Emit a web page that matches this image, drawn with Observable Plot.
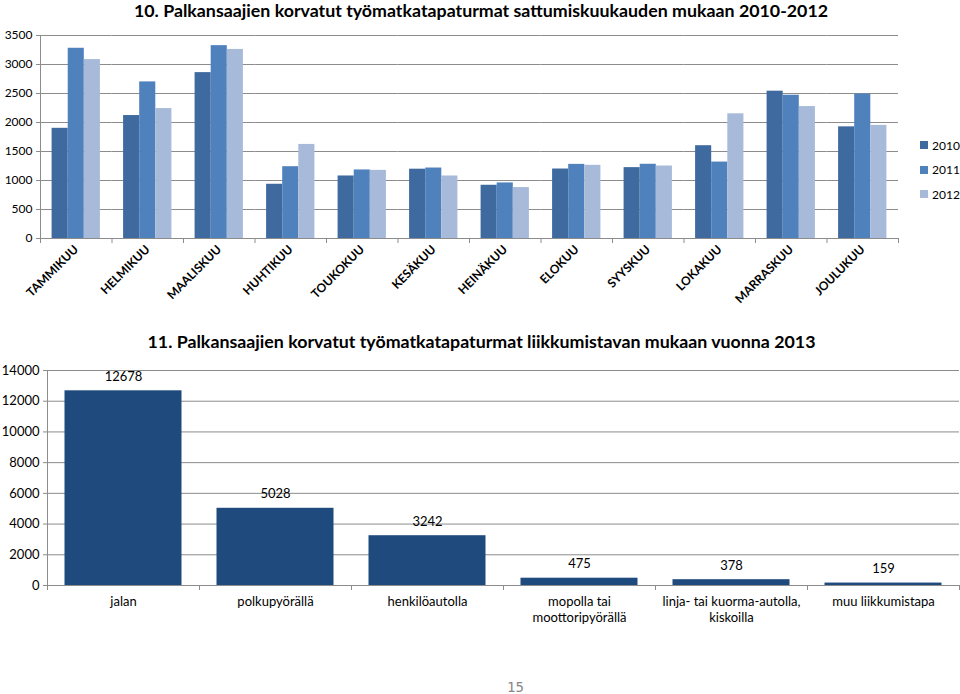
<!DOCTYPE html>
<html>
<head>
<meta charset="utf-8">
<script src="https://cdn.jsdelivr.net/npm/d3@7"></script>
<script src="https://cdn.jsdelivr.net/npm/@observablehq/plot@0.6"></script>
<style>
  html, body { margin: 0; padding: 0; background: #fff; }
  #page { position: relative; width: 960px; height: 694px; overflow: hidden; font-family: Lato, "Open Sans", sans-serif; color: #000; }
  .abs { position: absolute; }
  .title { font-weight: bold; font-size: 17.8px; text-align: center; white-space: nowrap; }
  .legend-item { display: flex; align-items: center; font-size: 12px; }
  .legend-item span.sw { width: 8px; height: 8px; margin-right: 4px; display: inline-block; }
</style>
</head>
<body>
<div id="page">
  <div id="chart1" class="abs" style="left:0;top:0"></div>
  <div id="chart2" class="abs" style="left:0;top:330px"></div>
  <div class="abs title" style="left:0;top:-1px;width:962px;">10. Palkansaajien korvatut työmatkatapaturmat sattumiskuukauden mukaan 2010-2012</div>
  <div class="abs title" style="left:0;top:330px;width:963px;">11. Palkansaajien korvatut työmatkatapaturmat liikkumistavan mukaan vuonna 2013</div>
  <div id="legend" class="abs" style="left:920px;top:133px;"></div>
  <div class="abs" style="left:507px;top:680px;font-family:'DejaVu Sans Mono',monospace;font-size:14px;line-height:14px;color:#888;">15</div>
</div>
<script>
// ---- Chart 10 data ----
const months = ["TAMMIKUU","HELMIKUU","MAALISKUU","HUHTIKUU","TOUKOKUU","KESÄKUU","HEINÄKUU","ELOKUU","SYYSKUU","LOKAKUU","MARRASKUU","JOULUKUU"];
const years = ["2010","2011","2012"];
const v2010 = [1900, 2120, 2860, 935, 1078, 1195, 918, 1198, 1222, 1600, 2540, 1925];
const v2011 = [3280, 2700, 3325, 1238, 1182, 1215, 958, 1278, 1280, 1318, 2470, 2490];
const v2012 = [3085, 2240, 3260, 1622, 1175, 1078, 878, 1262, 1250, 2150, 2275, 1950];
const yearColors = ["#3E6A9F", "#4F81BD", "#A8BAD9"];
const yTicks1 = [0, 500, 1000, 1500, 2000, 2500, 3000, 3500];

// ---- Chart 11 data ----
const modes = ["jalan","polkupyörällä","henkilöautolla","mopolla tai moottoripyörällä","linja- tai kuorma-autolla, kiskoilla","muu liikkumistapa"];
const modeLabels = ["jalan","polkupyörällä","henkilöautolla","mopolla tai\nmoottoripyörällä","linja- tai kuorma-autolla,\nkiskoilla","muu liikkumistapa"];
const modeValues = [12678, 5028, 3242, 475, 378, 159];
const yTicks2 = [0, 2000, 4000, 6000, 8000, 10000, 12000, 14000];
const barColor2 = "#1F4A7E";

const gridColor = "#8C8C8C";

// Build tables
const series = [v2010, v2011, v2012];
const data1 = months.flatMap((m, i) => years.map((y, j) => ({month: m, year: y, value: series[j][i]})));
const data2 = modes.map((m, i) => ({mode: m, value: modeValues[i]}));
const labelOf = new Map(modes.map((m, i) => [m, modeLabels[i]]));
const plain = d => String(d);

// chart 1 geometry
const h1 = 320, mt1 = 35, mb1 = 82;
const inner1 = h1 - mt1 - mb1;

const chart1 = Plot.plot({
  width: 960,
  height: h1,
  marginLeft: 40,
  marginRight: 62,
  marginTop: mt1,
  marginBottom: mb1,
  style: {fontFamily: "Lato, sans-serif", fontSize: "12px", color: "#000", background: "transparent"},
  fx: {domain: months, padding: 0, label: null, round: false},
  x: {domain: years, paddingInner: 0, paddingOuter: 0.72, axis: null, round: false},
  y: {domain: [0, 3500], label: null},
  color: {domain: years, range: yearColors},
  marks: [
    Plot.gridY(yTicks1, {stroke: gridColor, strokeOpacity: 1}),
    Plot.barY(data1, {fx: "month", x: "year", y: "value", fill: "year"}),
    Plot.ruleY([0], {stroke: gridColor}),
    Plot.frame({anchor: "left", stroke: gridColor, facetAnchor: "left"}),
    Plot.frame({anchor: "left", stroke: gridColor, insetTop: inner1, insetBottom: -4}),
    Plot.frame({anchor: "right", stroke: gridColor, insetTop: inner1, insetBottom: -4, facetAnchor: "right"}),
    Plot.axisY({ticks: yTicks1, tickFormat: plain, tickSize: 4, tickPadding: 4, stroke: gridColor, fill: "#000", label: null}),
    Plot.axisFx({anchor: "bottom", tickRotate: -45, tickSize: 0, tickPadding: 9, fontWeight: "bold", fontSize: 12, label: null})
  ]
});
document.getElementById("chart1").appendChild(chart1);

// chart 2 geometry
const h2 = 315, mt2 = 40, mb2 = 60;
const inner2 = h2 - mt2 - mb2;

const chart2 = Plot.plot({
  width: 960,
  height: h2,
  marginLeft: 47,
  marginRight: 1,
  marginTop: mt2,
  marginBottom: mb2,
  style: {fontFamily: "Lato, sans-serif", fontSize: "13px", color: "#000", background: "transparent"},
  fx: {domain: modes, padding: 0, label: null, round: false},
  y: {domain: [0, 14000], label: null},
  marks: [
    Plot.gridY(yTicks2, {stroke: gridColor, strokeOpacity: 1}),
    Plot.barY(data2, {fx: "mode", y: "value", fill: barColor2, insetLeft: 17.5, insetRight: 17.5}),
    Plot.ruleY([0], {stroke: gridColor}),
    Plot.frame({anchor: "left", stroke: gridColor, facetAnchor: "left"}),
    Plot.frame({anchor: "left", stroke: gridColor, insetTop: inner2, insetBottom: -4}),
    Plot.frame({anchor: "right", stroke: gridColor, insetTop: inner2, insetBottom: -4, facetAnchor: "right"}),
    Plot.text(data2, {fx: "mode", y: "value", text: d => String(d.value), dy: -14, fontSize: 13, fill: "#000"}),
    Plot.axisY({ticks: yTicks2, tickFormat: plain, tickSize: 4, tickPadding: 4, stroke: gridColor, fill: "#000", label: null}),
    Plot.axisFx({anchor: "bottom", tickSize: 0, tickPadding: 8, lineHeight: 1.3, fontSize: 13, tickFormat: d => labelOf.get(d), label: null})
  ]
});
document.getElementById("chart2").appendChild(chart2);

// Legend
const legend = d3.select("#legend");
years.forEach((y, i) => {
  const item = legend.append("div").attr("class", "legend-item").style("height", "24.5px");
  item.append("span").attr("class", "sw").style("background", yearColors[i]);
  item.append("span").text(y);
});
</script>
</body>
</html>
